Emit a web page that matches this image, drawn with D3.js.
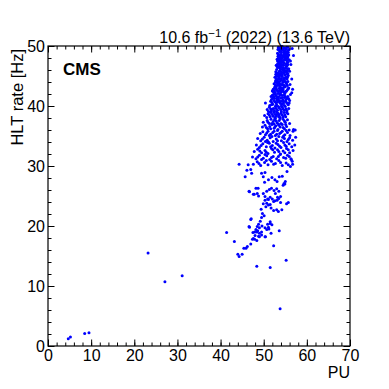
<!DOCTYPE html>
<html>
<head>
<meta charset="utf-8">
<script src="https://cdn.jsdelivr.net/npm/d3@7/dist/d3.min.js"></script>
<style>
body { margin: 0; background: #fff; }
text { font-family: "Liberation Sans", Arial, sans-serif; fill: #000; }
</style>
</head>
<body>
<svg></svg>
<script>
// axis setup
var xTicks = [0, 10, 20, 30, 40, 50, 60, 70];
var yTicks = [0, 10, 20, 30, 40, 50];
var lumiLabel = "10.6 fb";
var lumiRest = " (2022) (13.6 TeV)";

// isolated points at low PU
var lowPU = [[4.7,1.2],[5.2,1.5],[8.5,2.1],[9.5,2.2],[23.2,15.5],[27.1,10.7],[31.1,11.7],[53.8,6.2]];

// tail of the distribution (rate below ~30 Hz)
var tail = [
  [41.4,18.9],[43.2,17.4],[44.0,15.3],[44.3,14.9],[45.0,15.3],[45.4,16.3],[45.9,16.3],[46.2,16.6],
  [47.0,17.0],[47.6,17.9],[47.4,17.8],[47.9,17.8],[48.4,17.6],[48.0,18.4],[48.8,18.3],[49.0,18.2],
  [49.5,18.5],[50.3,18.2],[50.4,18.2],[47.5,18.9],[48.4,19.0],[49.0,18.8],[49.5,19.0],[52.3,16.7],
  [53.6,19.2],[55.2,14.3],[48.4,13.3],[51.5,13.1],[47.9,19.0],[48.2,19.4],[48.6,19.2],[48.5,19.9],
  [49.0,19.7],[49.6,20.0],[48.8,20.3],[49.2,20.8],[49.5,21.4],[50.1,21.7],[49.7,22.1],[49.4,22.8],
  [50.3,19.7],[50.9,20.3],[51.5,20.4],[51.2,19.5],[51.7,18.8],[50.7,19.4],[51.1,19.8],[51.9,20.2],
  [51.5,20.7],[47.1,21.2],[46.6,19.9],[46.7,19.8],[47.0,21.1],[49.9,23.7],[50.5,23.2],[51.1,23.5],
  [51.7,23.0],[52.3,22.6],[53.0,22.7],[54.2,22.7],[53.4,22.4],[55.7,23.9],[55.3,23.7],[53.9,23.9],
  [50.3,24.9],[50.9,24.5],[51.5,24.8],[52.0,24.5],[52.6,24.2],[53.2,24.8],[50.3,24.3],[50.7,23.8],
  [51.5,23.6],[52.3,24.1],[53.1,24.3],[53.5,24.6],[53.9,24.9],[51.1,24.4],[46.6,25.8],[48.2,26.3],
  [48.7,26.3],[47.8,25.3],[48.8,25.0],[50.7,25.8],[51.3,26.1],[51.8,26.3],[52.4,25.9],[53.0,26.2],
  [53.5,25.8],[54.5,26.8],[54.9,27.0],[46.7,25.7],[48.5,25.4],[47.6,25.3],[49.9,25.4],[52.7,25.4],
  [49.5,28.8],[50.3,28.9],[49.9,28.2],[50.2,27.3],[51.1,27.7],[51.9,28.1],[52.6,27.7],[53.1,27.4],
  [53.6,28.2],[54.3,28.3],[54.7,27.1],[55.0,27.4],[55.4,29.1],[56.2,29.9],[45.7,28.2],[47.0,29.4],
  [47.2,28.8],[46.1,29.3]
];

// main cluster (rate above ~30 Hz)
var core = [
  [53.4,49.8],[53.9,49.6],[54.3,49.9],[54.8,49.7],[55.2,49.5],[55.6,49.8],[54.1,49.2],[54.6,49.3],
  [53.7,49.1],[55.0,49.0],[55.9,49.4],[56.6,49.6],[53.3,49.4],[53.6,49.4],[54.5,49.5],[55.4,49.1],
  [54.0,49.9],[55.7,49.3],
  [53.2,48.8],[53.6,48.5],[54.0,48.9],[54.4,48.3],[54.9,48.7],[55.3,48.4],[55.7,48.9],[53.5,48.1],
  [54.2,48.0],[55.1,48.1],[55.6,48.2],[56.9,48.4],[54.7,48.5],[53.8,48.2],[54.6,48.9],[55.5,48.6],
  [53.4,48.6],[55.0,48.3],
  [53.1,47.8],[53.5,47.4],[53.9,47.9],[54.3,47.6],[54.7,47.2],[55.2,47.7],[55.6,47.3],[53.3,47.1],
  [54.0,47.2],[54.9,47.9],[55.5,47.9],[56.2,47.5],[53.8,47.5],[53.6,47.7],[54.5,47.5],[55.3,47.1],
  [54.1,47.9],[53.2,47.5],
  [52.9,46.8],[53.3,46.4],[53.7,46.9],[54.1,46.5],[54.6,46.8],[55.0,46.3],[55.4,46.7],[55.8,46.2],
  [53.0,46.1],[53.9,46.1],[54.8,46.0],[56.3,46.9],[54.4,46.2],[53.5,46.6],[54.3,46.9],[55.2,46.5],
  [53.1,46.6],[55.6,46.9],
  [52.8,45.7],[53.2,45.3],[53.6,45.8],[54.0,45.4],[54.5,45.9],[54.9,45.2],[55.3,45.6],[55.7,45.1],
  [52.9,45.0],[53.8,45.1],[54.7,45.5],[56.0,45.8],[53.4,45.5],[55.5,45.9],[53.0,45.5],[54.2,45.6],
  [55.1,45.8],[53.7,45.3],[55.6,45.4],
  [52.6,44.8],[53.0,44.3],[53.5,44.7],[53.9,44.2],[54.3,44.9],[54.8,44.4],[55.2,44.8],[55.6,44.1],
  [52.7,44.0],[53.6,44.0],[54.6,44.6],[56.5,44.5],[54.0,44.6],[55.0,44.1],[52.9,44.6],[53.8,44.5],
  [54.5,44.2],[55.4,44.5],[53.2,44.1],
  [52.4,43.7],[52.9,43.3],[53.3,43.8],[53.7,43.2],[54.2,43.6],[54.6,43.1],[55.1,43.9],[55.5,43.4],
  [52.5,43.0],[53.5,43.5],[54.4,43.9],[56.1,43.6],[55.8,43.0],[53.0,43.9],[52.7,43.5],[53.9,43.6],
  [54.8,43.4],[55.3,43.7],[52.9,43.0],
  [52.2,42.8],[52.7,42.2],[53.1,42.6],[53.6,42.9],[54.0,42.3],[54.5,42.7],[54.9,42.1],[55.3,42.5],
  [55.7,42.9],[52.4,42.0],[53.3,42.1],[56.7,42.8],[56.5,42.2],[54.2,42.9],[52.0,42.5],[52.5,42.5],
  [53.4,42.4],[54.3,42.5],[55.1,42.4],[53.8,42.1],
  [52.0,41.8],[52.5,41.3],[52.9,41.7],[53.4,41.2],[53.8,41.9],[54.3,41.4],[54.7,41.8],[55.2,41.1],
  [55.6,41.6],[51.8,41.1],[53.1,41.0],[54.5,41.0],[56.2,41.9],[51.7,41.6],[52.3,41.6],[53.2,41.5],
  [54.0,41.3],[55.0,41.6],[55.4,41.3],
  [51.6,40.8],[52.1,40.3],[52.6,40.7],[53.0,40.2],[53.5,40.9],[53.9,40.4],[54.4,40.8],[54.8,40.1],
  [55.3,40.6],[55.7,40.2],[50.4,40.5],[51.4,40.1],[52.8,40.0],[54.1,40.0],[56.0,40.9],[51.9,40.6],
  [52.9,40.5],[53.7,40.6],[54.6,40.5],[55.5,40.4],
  [51.3,39.8],[51.8,39.2],[52.3,39.6],[52.7,39.9],[53.2,39.3],[53.6,39.7],[54.1,39.1],[54.5,39.5],
  [55.0,39.9],[55.4,39.2],[50.8,39.4],[51.5,39.0],[53.0,39.0],[55.8,39.6],[52.0,39.5],[52.9,39.6],
  [53.9,39.4],[54.8,39.3],[52.5,39.2],
  [51.0,38.7],[51.5,38.2],[52.0,38.6],[52.4,38.9],[52.9,38.3],[53.3,38.8],[53.8,38.1],[54.3,38.5],
  [54.7,38.9],[55.1,38.2],[50.2,38.4],[55.6,38.7],[52.6,38.0],[53.6,38.5],[51.3,38.5],[52.2,38.3],
  [53.1,38.6],[54.0,38.8],[54.9,38.5],
  [50.8,37.6],[51.3,37.1],[51.7,37.8],[52.2,37.4],[52.7,37.9],[53.1,37.2],[53.6,37.6],[54.0,37.1],
  [54.5,37.8],[55.0,37.3],[55.5,37.7],[49.9,37.3],[56.0,37.1],[52.4,37.0],
  [50.3,36.8],[50.9,36.2],[51.4,36.6],[51.9,36.9],[52.4,36.3],[52.8,36.7],[53.3,36.1],[53.8,36.5],
  [54.3,36.9],[54.8,36.2],[55.3,36.6],[55.9,36.0],[56.9,36.1],[49.7,36.5],[57.3,36.0],
  [49.8,35.7],[50.4,35.2],[51.0,35.8],[51.6,35.3],[52.1,35.6],[52.7,35.1],[53.2,35.9],[53.7,35.4],
  [54.3,35.8],[54.9,35.2],[55.5,35.6],[56.1,35.1],[56.8,35.8],[49.2,35.4],
  [48.6,34.6],[49.3,34.2],[50.1,34.8],[50.8,34.3],[51.5,34.7],[52.2,34.1],[52.9,34.5],[53.5,34.9],
  [54.1,34.2],[54.8,34.6],[55.4,34.1],[56.0,34.7],[56.7,34.3],[57.4,34.8],[51.1,34.0],
  [48.3,33.5],[49.0,33.1],[49.8,33.7],[50.6,33.2],[51.3,33.8],[52.0,33.4],[52.6,33.0],[53.3,33.6],
  [54.0,33.1],[54.6,33.9],[55.2,33.3],[55.9,33.7],[56.5,33.2],[57.2,33.5],
  [47.8,32.4],[48.6,32.8],[49.5,32.2],[50.3,32.6],[51.0,32.1],[51.8,32.9],[52.5,32.3],[53.2,32.7],
  [53.9,32.0],[54.5,32.5],[55.3,32.9],[56.0,32.2],[56.8,32.6],
  [47.4,31.5],[48.2,31.2],[49.0,31.8],[49.9,31.3],[50.7,31.7],[51.4,31.1],[52.2,31.6],[53.0,31.2],
  [53.8,31.9],[54.6,31.4],[55.5,31.8],[56.3,31.2],[56.4,31.1],[55.9,31.6],
  [44.3,30.3],[46.4,30.2],[47.6,30.3],[48.5,30.7],[49.3,30.1],[50.2,30.6],[51.0,30.2],[51.8,30.8],
  [52.7,30.4],[53.5,30.9],[54.3,30.1],[55.2,30.5],[56.6,30.8],[56.7,30.3]
];

// extra points filling the densest part (30-50 Hz)
var dense = [
  [53.5,49.6],[54.2,49.4],[54.9,49.2],[55.3,49.8],[53.8,49.0],[54.7,49.0],
  [53.3,48.3],[54.1,48.6],[54.8,48.1],[55.2,48.8],[53.9,48.4],[55.8,48.5],
  [53.4,47.9],[54.2,47.3],[54.8,47.7],[55.4,47.5],[53.7,47.2],[55.9,47.7],
  [53.2,46.9],[53.8,46.3],[54.5,46.4],[55.1,46.9],[55.5,46.2],[54.0,46.7],
  [52.8,45.3],[53.5,45.1],[54.3,45.2],[54.8,45.7],[55.4,45.3],[53.9,45.8],
  [52.8,44.3],[53.4,44.9],[54.1,44.4],[54.9,44.7],[55.5,44.8],[53.3,44.4],
  [52.6,43.2],[53.2,43.5],[54.0,43.1],[54.5,43.5],[55.0,43.2],[53.6,43.8],
  [52.3,42.3],[52.9,42.8],[53.7,42.6],[54.7,42.3],[55.5,42.7],[54.1,42.7],
  [52.1,41.3],[52.7,41.9],[53.6,41.6],[54.2,41.8],[54.8,41.4],[53.0,41.3],[55.8,41.2],
  [51.8,40.2],[52.4,40.9],[53.2,40.7],[54.0,40.8],[55.0,40.8],[54.3,40.3],[55.9,40.5],
  [51.6,39.5],[52.4,39.1],[53.4,39.9],[54.3,39.8],[55.2,39.5],[51.1,39.1],
  [51.7,38.9],[52.7,38.6],[53.5,38.2],[54.5,38.2],[55.3,38.9],[50.7,38.1],
  [51.0,37.3],[51.9,37.1],[52.9,37.5],[53.8,37.9],[54.8,37.5],[52.5,37.7],[53.4,37.0],
  [50.6,36.4],[51.6,36.2],[52.6,36.5],[53.5,36.8],[54.5,36.4],[55.1,36.9],
  [50.7,35.5],[51.3,35.1],[52.4,35.8],[53.0,35.3],[54.0,35.6],[54.6,35.0],[55.2,35.9],
  [49.7,34.5],[51.9,34.9],[53.2,34.2],[54.4,34.8],[55.7,34.4],[50.4,34.1],
  [49.4,33.4],[51.6,33.2],[52.9,33.8],[53.7,33.3],[54.9,33.5],[50.9,33.9],
  [49.1,32.5],[50.6,32.3],[52.1,32.7],[53.5,32.4],[54.9,32.2],[55.7,32.7],
  [48.6,31.5],[50.3,31.9],[51.8,31.4],[53.4,31.6],[55.1,31.3],[49.5,31.1],
  [48.9,30.4],[50.6,30.9],[52.3,30.3],[53.9,30.6],[55.7,30.2]
];

var width = 389;
var height = 389;
var frameL = 48, frameT = 46, frameR = 350, frameB = 346;

var svg = d3.select('svg')
    .attr('width', width)
    .attr('height', height);

var x = d3.scaleLinear().domain([0, 70]).range([frameL, frameR]);
var y = d3.scaleLinear().domain([0, 50]).range([frameB, frameT]);

var points = lowPU.concat(tail, core, dense);

// markers
svg.append('g')
    .selectAll('circle')
    .data(points)
    .enter()
    .append('circle')
        .attr('cx', d => x(d[0]))
        .attr('cy', d => y(d[1]))
        .attr('r', 1.5)
        .attr('fill', '#0000ff');

// ticks, all pointing inward
var minorX = d3.range(0, 71, 2);
var minorY = d3.range(0, 51, 2);

function addAxis(axis, transform) {
    var g = svg.append('g').attr('transform', transform).call(axis);
    g.select('.domain').remove();
    g.selectAll('line').attr('stroke', '#000');
    return g;
}

addAxis(d3.axisBottom(x).tickValues(minorX).tickSize(-3.5).tickFormat(''), `translate(0,${frameB})`);
addAxis(d3.axisTop(x).tickValues(minorX).tickSize(-3.5).tickFormat(''), `translate(0,${frameT})`);
addAxis(d3.axisLeft(y).tickValues(minorY).tickSize(-3.5).tickFormat(''), `translate(${frameL},0)`);
addAxis(d3.axisRight(y).tickValues(minorY).tickSize(-3.5).tickFormat(''), `translate(${frameR},0)`);

var xAxis = addAxis(d3.axisBottom(x).tickValues(xTicks).tickSize(-6.5).tickPadding(4).tickFormat(d3.format('d')), `translate(0,${frameB})`);
addAxis(d3.axisTop(x).tickValues(xTicks).tickSize(-6.5).tickFormat(''), `translate(0,${frameT})`);
var yAxis = addAxis(d3.axisLeft(y).tickValues(yTicks).tickSize(-6.5).tickPadding(3).tickFormat(d3.format('d')), `translate(${frameL},0)`);
addAxis(d3.axisRight(y).tickValues(yTicks).tickSize(-6.5).tickFormat(''), `translate(${frameR},0)`);

xAxis.selectAll('text').attr('font-size', 16).attr('font-family', '"Liberation Sans", Arial, sans-serif');
yAxis.selectAll('text').attr('font-size', 16).attr('font-family', '"Liberation Sans", Arial, sans-serif');

// frame
svg.append('rect')
    .attr('x', frameL)
    .attr('y', frameT)
    .attr('width', frameR - frameL)
    .attr('height', frameB - frameT)
    .attr('fill', 'none')
    .attr('stroke', '#000')
    .attr('stroke-width', 1.2);

// labels
svg.append('text')
    .attr('x', frameR)
    .attr('y', 378)
    .attr('text-anchor', 'end')
    .attr('font-size', 16)
    .text('PU');

svg.append('text')
    .attr('transform', `translate(23,49) rotate(-90)`)
    .attr('text-anchor', 'end')
    .attr('font-size', 16.5)
    .text('HLT rate [Hz]');

svg.append('text')
    .attr('x', 63)
    .attr('y', 75)
    .attr('font-size', 17)
    .attr('font-weight', 'bold')
    .text('CMS');

var lumi = svg.append('text')
    .attr('x', frameR)
    .attr('y', 43)
    .attr('text-anchor', 'end')
    .attr('font-size', 16);
lumi.append('tspan').text(lumiLabel);
lumi.append('tspan').attr('dy', -6).attr('font-size', 11.5).text('\u22121');
lumi.append('tspan').attr('dy', 6).text(lumiRest);
</script>
</body>
</html>
